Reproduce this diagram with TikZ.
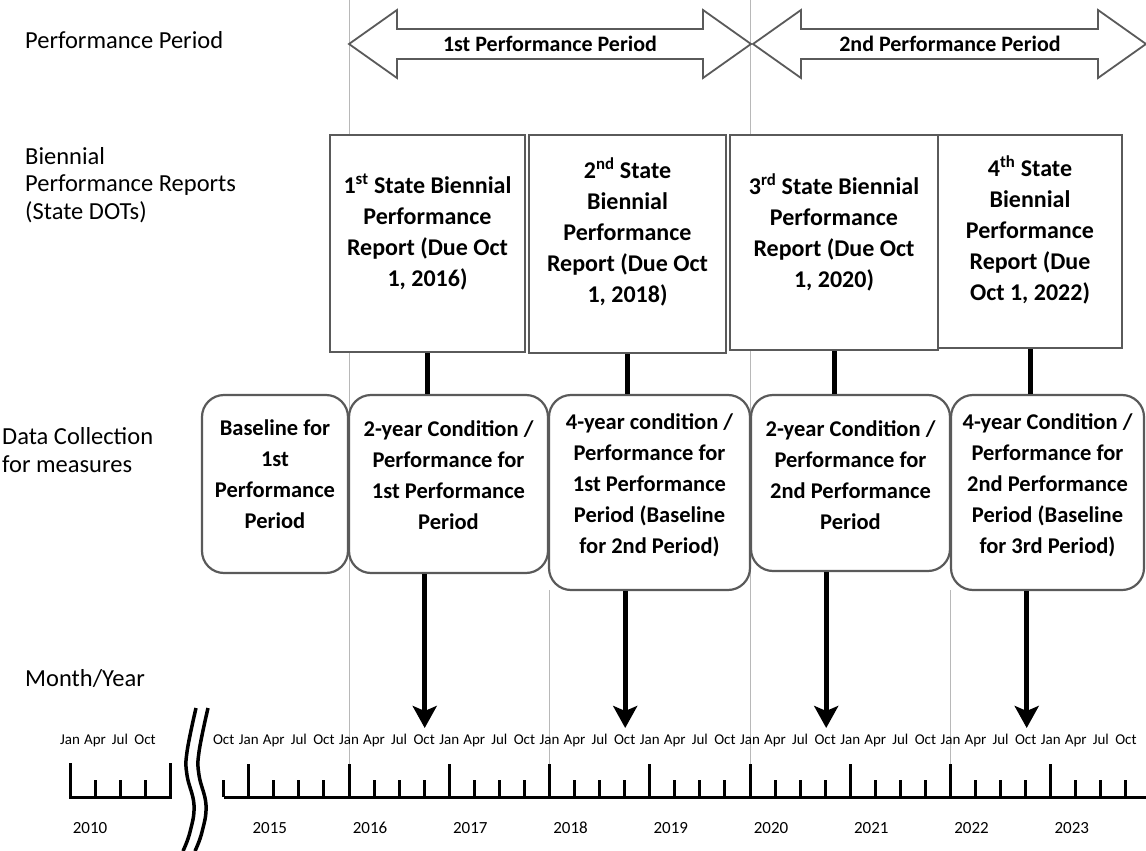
\documentclass[tikz,border=0pt]{standalone}
\usepackage{fontspec}
\setmainfont{Carlito}
\usetikzlibrary{arrows.meta}
\definecolor{boxgray}{HTML}{5A5A5A}
\definecolor{gridgray}{HTML}{B8B8B8}
\tikzset{
  rbox/.style={draw=boxgray, line width=2.2pt, fill=white, inner sep=0pt},
  rrbox/.style={rbox, rounded corners=22pt},
  boxtext/.style={align=center, inner sep=0pt, font=\fontsize{24}{31}\selectfont\bfseries},
  dctext/.style={align=center, inner sep=0pt, anchor=north, font=\fontsize{22.5}{31}\selectfont\bfseries},
  sidelabel/.style={anchor=west, align=left, inner sep=0pt, font=\fontsize{24.5}{27.5}\selectfont},
  arrowtext/.style={inner sep=0pt, font=\fontsize{22}{26}\selectfont\bfseries},
  gridline/.style={draw=gridgray, line width=0.8pt},
  stemline/.style={line width=5pt},
  downarrow/.style={line width=5pt, -{Stealth[length=22pt,width=24pt,inset=5pt]}},
  periodarrow/.style={draw=boxgray, line width=1.8pt, fill=white, line join=miter},
  monthlabel/.style={inner sep=0pt, anchor=base, font=\fontsize{15}{15}\selectfont},
  yearlabel/.style={inner sep=0pt, font=\fontsize{17}{17}\selectfont},
  axisline/.style={line width=3pt},
  breakline/.style={line width=3.5pt}
}
\begin{document}
\begin{tikzpicture}[x=1pt,y=-1pt]
\useasboundingbox (0,0) rectangle (1146,851);
\fill[white] (0,0) rectangle (1146,851);

% grid lines
\draw[gridline] (349,0) -- (349,797);
\draw[gridline] (750,0) -- (750,797);
\draw[gridline] (549,590) -- (549,797);
\draw[gridline] (950,590) -- (950,797);

% side labels
\node[sidelabel] (lpp) at (25,40) {Performance Period};
\node[sidelabel] (lbr) at (25,185) {Biennial\\Performance Reports\\(State DOTs)};
\node[sidelabel] (ldc) at (2,450) {Data Collection\\for measures};
\node[sidelabel] (lmy) at (25,679) {Month/Year};

% performance period arrows
\draw[periodarrow] (349,44) -- (397,10) -- (397,29) -- (703,29) -- (703,10) -- (751,44)
  -- (703,78) -- (703,59) -- (397,59) -- (397,78) -- cycle;
\node[arrowtext] (pp1) at (550,44) {1st Performance Period};
\draw[periodarrow] (753,44) -- (801,10) -- (801,29) -- (1098,29) -- (1098,10) -- (1146,44)
  -- (1098,78) -- (1098,59) -- (801,59) -- (801,78) -- cycle;
\node[arrowtext] (pp2) at (950,44) {2nd Performance Period};

% report boxes
\node[rbox, minimum width=195pt, minimum height=217pt] (r1) at (427.5,243.5) {};
\node[boxtext] (t1) at (427.5,232) {1\textsuperscript{st} State Biennial\\Performance\\Report (Due Oct\\1, 2016)};
\node[rbox, minimum width=197pt, minimum height=218pt] (r2) at (627.5,244) {};
\node[boxtext] (t2) at (627.5,232) {2\textsuperscript{nd} State\\Biennial\\Performance\\Report (Due Oct\\1, 2018)};
\node[rbox, minimum width=208pt, minimum height=215pt] (r3) at (834,242.5) {};
\node[boxtext] (t3) at (834,232) {3\textsuperscript{rd} State Biennial\\Performance\\Report (Due Oct\\1, 2020)};
\node[rbox, minimum width=184pt, minimum height=213pt] (r4) at (1030,241.5) {};
\node[boxtext] (t4) at (1030,230) {4\textsuperscript{th} State\\Biennial\\Performance\\Report (Due\\Oct 1, 2022)};

% data collection boxes
\node[rrbox, minimum width=146pt, minimum height=178pt] (b0) at (275,484) {};
\node[dctext] (s0) at (275,420) {Baseline for\\1st\\Performance\\Period};
\node[rrbox, minimum width=199pt, minimum height=178pt] (b1) at (448.5,484) {};
\node[dctext] (s1) at (448.5,420) {2-year Condition /\\Performance for\\1st Performance\\Period};
\node[rrbox, minimum width=201pt, minimum height=195pt] (b2) at (649.5,492.5) {};
\node[dctext] (s2) at (649.5,413) {4-year condition /\\Performance for\\1st Performance\\Period (Baseline\\for 2nd Period)};
\node[rrbox, minimum width=199pt, minimum height=176pt] (b3) at (850.5,483) {};
\node[dctext] (s3) at (850.5,420) {2-year Condition /\\Performance for\\2nd Performance\\Period};
\node[rrbox, minimum width=193pt, minimum height=195pt] (b4) at (1047.5,492.5) {};
\node[dctext] (s4) at (1047.5,413) {4-year Condition /\\Performance for\\2nd Performance\\Period (Baseline\\for 3rd Period)};

% stems from reports to data boxes
\draw[stemline] (r1.south) -- (r1.south |- b1.north);
\draw[stemline] (r2.south) -- (r2.south |- b2.north);
\draw[stemline] (r3.south) -- (r3.south |- b3.north);
\draw[stemline] (r4.south) -- (r4.south |- b4.north);

% arrows to the timeline (October of each due year)
\coordinate (oct16) at (424.7,728);
\coordinate (oct18) at (625.2,728);
\coordinate (oct20) at (826.2,728);
\coordinate (oct22) at (1026.7,728);
\draw[downarrow] (b1.south -| oct16) -- (oct16);
\draw[downarrow] (b2.south -| oct18) -- (oct18);
\draw[downarrow] (b3.south -| oct20) -- (oct20);
\draw[downarrow] (b4.south -| oct22) -- (oct22);

% left mini axis (2010)
\draw[axisline, line cap=rect] (70,764) -- (70,797) -- (170,797) -- (170,764);
\foreach \xx in {95,120,145} \draw[axisline] (\xx,797) -- (\xx,780);
\node[monthlabel] (lm1) at (70,744) {Jan};
\node[monthlabel] (lm2) at (95,744) {Apr};
\node[monthlabel] (lm3) at (120,744) {Jul};
\node[monthlabel] (lm4) at (145,744) {Oct};
\node[yearlabel] (ly0) at (90,828) {2010};

% axis break
\draw[breakline] plot[smooth, tension=0.7] coordinates {(196,708) (187,752) (187,775) (194,805) (190,832) (183,851)};
\draw[breakline] plot[smooth, tension=0.7] coordinates {(208,708) (199,752) (199,775) (206,805) (202,832) (195,851)};

% main axis
\draw[axisline] (223.7,797) -- (1146,797);
\foreach \k in {-1,...,35} {
  \pgfmathsetmacro\xx{248.75+25.0625*\k}
  \pgfmathtruncatemacro\q{mod(\k+4,4)}
  \ifnum\q=0
    \draw[axisline] (\xx,797) -- (\xx,764);
  \else
    \draw[axisline] (\xx,797) -- (\xx,780);
  \fi
  \node[monthlabel] (m\k) at (\xx,744) {\ifcase\q Jan\or Apr\or Jul\or Oct\fi};
}
\foreach \yr [count=\i from 0] in {2015,...,2023} {
  \pgfmathsetmacro\xx{248.75+100.25*\i+21}
  \node[yearlabel] (y\yr) at (\xx,828) {\yr};
}
\end{tikzpicture}
\end{document}
